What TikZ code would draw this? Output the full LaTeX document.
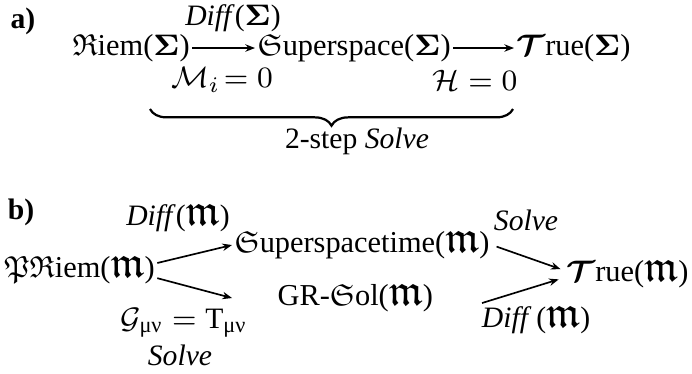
\documentclass[tikz,border=0pt]{standalone}
\usepackage{amsmath}
\usepackage{amssymb}
\usepackage{fontspec}
\setmainfont{Liberation Serif}
\usetikzlibrary{arrows.meta,decorations.pathreplacing}

\newcommand{\frm}{{\fontsize{12}{12}\selectfont$\mathfrak{m}$}}
\newcommand{\bS}{\(\boldsymbol{\Sigma}\)}
\newcommand{\bT}{\(\boldsymbol{\mathcal{T}}\)}

\begin{document}
\begin{tikzpicture}[
  x=0.27pt,y=-0.27pt,
  >={Stealth[length=2.6pt,width=2pt]},
  term/.style={inner sep=0.5pt, font=\fontsize{8.2}{10}\selectfont},
  lab/.style={inner sep=1pt, font=\fontsize{8}{10}\selectfont},
  tag/.style={font=\fontsize{8}{10}\selectfont\bfseries},
  map/.style={->, line width=0.45pt},
]
\useasboundingbox (0,0) rectangle (692,373);

%% ---------- PART A ----------
\node[tag] (taga) at (23,21) {a)};
\node[term, anchor=west] (riemA)  at (70,48)  {\(\mathfrak{R}\)iem(\bS)};
\node[term, anchor=west] (superA) at (255,48) {\(\mathfrak{S}\)uperspace(\bS)};
\node[term, anchor=west] (trueA)  at (514,48) {\bT rue(\bS)};
\node[lab] (diffA) at (233,18) {\textit{Diff}(\bS)};
\node[lab] (momA)  at (222,80) {\(\mathcal{M}_i\!= 0\)};
\node[lab] (hamA)  at (475,80) {\(\mathcal{H} = 0\)};
\draw[map] (riemA.east) -- (superA.west);
\draw[map] (superA.east) -- (trueA.west);
\coordinate (braceL) at (150,109);
\coordinate (braceR) at (513,109);
\draw[decorate, decoration={brace, mirror, amplitude=4.5pt}, line width=0.6pt]
  (braceL) -- (braceR);
\node[lab] (solveA) at (357,141) {2-step \textit{Solve}};

%% ---------- PART B ----------
\node[tag] (tagb) at (21,212) {b)};
\node[term, anchor=west] (priem) at (2,270)   {\(\mathfrak{P}\mathfrak{R}\)iem(\frm)};
\node[term, anchor=west] (sst)   at (232,245) {\(\mathfrak{S}\)uperspacetime(\frm)};
\node[term, anchor=west] (grsol) at (275,298) {GR-\(\mathfrak{S}\)ol(\frm)};
\node[term, anchor=west] (trueB) at (564,274) {\bT rue(\frm)};
\coordinate (gsrc) at (482,303);
\node[lab] (diffB)  at (178,218) {\textit{Diff}(\frm)};
\node[lab] (einB)   at (184,323) {\(\mathcal{G}_{\text{μν}} = \text{T}_{\text{μν}}\)};
\node[lab] (solveB) at (180,355) {\textit{Solve}};
\node[lab] (solveC) at (526,220) {\textit{Solve}};
\node[lab] (diffC)  at (536,320) {\textit{Diff}\,(\frm)};
\draw[map] ([yshift=1.9pt]priem.east) -- (sst.west);
\draw[map] ([yshift=-2.2pt]priem.east) -- ([xshift=-11.6pt]grsol.west);
\draw[map, shorten <=1.3pt, shorten >=1pt] (sst.east) -- ([yshift=1pt]trueB.west);
\draw[map, shorten >=1.5pt] (gsrc) -- ([yshift=-1pt]trueB.west);
\end{tikzpicture}
\end{document}
